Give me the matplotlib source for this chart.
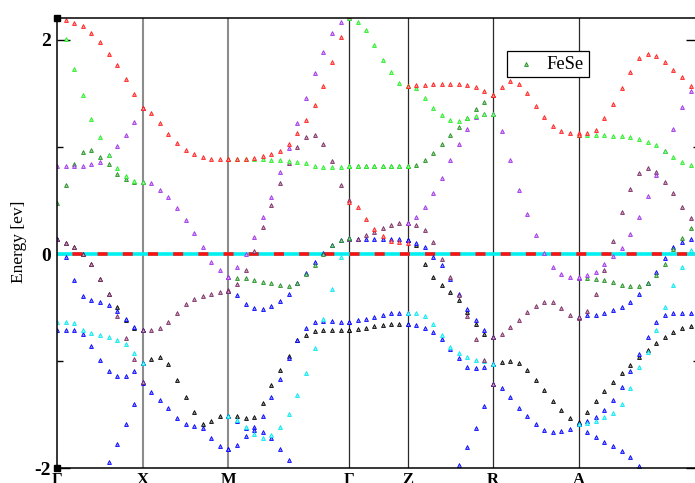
import numpy as np
import matplotlib
matplotlib.use("Agg")
import matplotlib.pyplot as plt
from matplotlib.patches import Rectangle
from matplotlib.lines import Line2D

plt.rcParams['font.family'] = ['Liberation Serif', 'DejaVu Serif']
plt.rcParams['axes.unicode_minus'] = False
plt.rcParams['lines.scale_dashes'] = False

# k-path
k_labels = ["Γ", "X", "M", "Γ", "Z", "R", "A", "Z"]
seg_lengths = [1.0, 1.0, 1.414, 0.682, 1.0, 1.0, 1.414]

# band energies (eV) read along each segment of the path
gx = {
    "red":    [2.19, 2.18, 2.16, 2.13, 2.06, 1.98, 1.87, 1.76, 1.63, 1.49, 1.36],
    "lime":   [2.22, 2.01, 1.73, 1.48, 1.26, 1.09, 0.92, 0.80, 0.725, 0.685, 0.67],
    "dgreen": [0.48, 0.64, 0.84, 0.95, 0.97, 0.905, 0.84, 0.75, 0.70, 0.675, 0.67],
    "purple": [0.82, 0.82, 0.82, 0.825, 0.84, 0.86, 0.92, 1.005, 1.11, 1.23, 1.36],
    "black":  [0.14, 0.10, 0.065, 0.0, -0.09, -0.23, -0.37, -0.495, -0.62, -0.69, -0.71],
    "blue_a": [0.14, -0.03, -0.24, -0.39, -0.43, -0.45, -0.48, -0.53, -0.61, -0.68, -0.71],
    "maroon": [0.14, 0.10, 0.065, 0.0, -0.09, -0.23, -0.37, -0.58, -0.78, -0.98, -1.195],
    "cyan":   [-0.635, -0.635, -0.645, -0.71, -0.735, -0.755, -0.775, -0.80, -0.84, -0.925, -1.02],
    "blue_b": [-0.71, -0.71, -0.71, -0.75, -0.86, -0.99, -1.09, -1.14, -1.14, -1.095, -1.02],
    "blue_c": [None, None, None, None, None, -2.04, -1.94, -1.77, -1.59, -1.40, -1.20],
}
xm = {
    "red":    [1.36, 1.32, 1.22, 1.12, 1.04, 0.97, 0.93, 0.91, 0.89, 0.89, 0.89],
    "purple": [0.67, 0.66, 0.595, 0.53, 0.43, 0.32, 0.20, 0.065, -0.075, -0.15, -0.215],
    "maroon": [-0.71, -0.71, -0.69, -0.63, -0.55, -0.47, -0.42, -0.395, -0.37, -0.355, -0.34],
    "black":  [-1.02, -0.98, -0.96, -1.03, -1.18, -1.33, -1.475, -1.585, -1.555, -1.515, -1.51],
    "blue_c": [-1.195, -1.29, -1.36, -1.44, -1.53, -1.59, -1.605, -1.62, -1.715, -1.79, -1.82],
}
mg = {
    "red":    [0.89, 0.89, 0.89, 0.90, 0.915, 0.93, 0.96, 1.03, 1.125, 1.25, 1.39, 1.57, 1.79, 2.03, 2.22],
    "lime":   [0.89, 0.89, 0.89, 0.89, 0.89, 0.88, 0.875, 0.865, 0.86, 0.845, 0.82, 0.81, 0.81, 0.815, 0.82],
    "purple": [-0.215, -0.12, 0.0, 0.16, 0.35, 0.53, 0.765, 0.99, 1.22, 1.46, 1.69, 1.89, 2.06, 2.165, 2.2],
    "maroon": [-0.345, -0.28, -0.15, 0.03, 0.25, 0.46, 0.665, 0.85, 1.0, 1.09, 1.115, 1.03, 0.865, 0.64, 0.5],
    "dgreen": [-0.215, -0.22, -0.225, -0.24, -0.26, -0.275, -0.29, -0.30, -0.27, -0.19, -0.10, 0.0, 0.08, 0.128, 0.15],
    "blue_a": [-0.345, -0.385, -0.465, -0.50, -0.51, -0.485, -0.44, -0.37, -0.275, -0.18, -0.075, 0.01, 0.08, 0.128, 0.15],
    "cyan":   [-1.51, -1.545, -1.61, -1.68, -1.715, -1.685, -1.615, -1.49, -1.32, -1.11, -0.875, -0.61, -0.33, -0.03, 0.14],
    "black":  [-1.51, -1.515, -1.53, -1.52, -1.39, -1.225, -1.08, -0.95, -0.805, -0.76, -0.72, -0.71, -0.71, -0.71, -0.71],
    "blue_b": [-1.82, -1.78, -1.70, -1.615, -1.51, -1.335, -1.165, -0.97, -0.80, -0.69, -0.63, -0.625, -0.625, -0.63, -0.635],
    "blue_c": [-1.51, -1.56, -1.62, -1.64, -1.66, -1.715, -1.82, -1.925, -2.035, None, None, None, None, None, None],
}
gz = {
    "lime":   [2.2, 2.17, 2.09, 1.955, 1.81, 1.695, 1.60, 1.57],
    "dgreen": [0.82, 0.82, 0.82, 0.82, 0.82, 0.82, 0.82, 0.82],
    "lime_b": [0.82, 0.82, 0.82, 0.82, 0.82, 0.82, 0.82, 0.82],
    "red":    [0.49, 0.44, 0.33, 0.235, 0.165, 0.12, 0.11, 0.105],
    "blue_a": [0.14, 0.14, 0.14, 0.14, 0.14, 0.14, 0.137, 0.135],
    "maroon": [0.143, 0.143, 0.175, 0.205, 0.245, 0.275, 0.29, 0.29],
    "blue_b": [-0.635, -0.62, -0.605, -0.585, -0.565, -0.55, -0.548, -0.548],
    "black":  [-0.705, -0.70, -0.69, -0.67, -0.66, -0.653, -0.653, -0.656],
}
zr = {
    "red":    [1.57, 1.575, 1.58, 1.585, 1.59, 1.59, 1.59, 1.58, 1.56, 1.52, 1.48],
    "lime":   [1.57, 1.545, 1.46, 1.365, 1.30, 1.25, 1.24, 1.265, 1.29, 1.305, 1.31],
    "dgreen": [0.82, 0.83, 0.88, 0.945, 1.025, 1.11, 1.185, 1.27, 1.35, 1.42, 1.48],
    "purple": [0.29, 0.345, 0.44, 0.565, 0.71, 0.875, 1.025, 1.165, 1.275, 1.305, 1.31],
    "maroon": [0.29, 0.275, 0.22, 0.11, -0.05, -0.215, -0.385, -0.58, -0.79, -0.99, -1.215],
    "black":  [0.135, 0.08, -0.095, -0.215, -0.285, -0.355, -0.425, -0.54, -0.65, -0.745, -0.77],
    "blue_a": [0.135, 0.10, 0.065, -0.03, -0.105, -0.23, -0.37, -0.515, -0.62, -0.71, -0.77],
    "blue_c": [None, None, None, None, None, -2.15, -1.97, -1.80, -1.62, -1.42, -1.215],
    "cyan":   [-0.55, -0.55, -0.58, -0.65, -0.76, -0.87, -0.925, -0.96, -0.985, -1.0, -1.025],
    "blue_b": [-0.655, -0.665, -0.695, -0.73, -0.79, -0.885, -0.975, -1.05, -1.065, -1.055, -1.025],
}
ra = {
    "red":    [1.48, 1.56, 1.615, 1.59, 1.50, 1.385, 1.275, 1.195, 1.15, 1.13, 1.125],
    "purple": [1.31, 1.145, 0.88, 0.60, 0.37, 0.18, 0.01, -0.12, -0.19, -0.215, -0.22],
    "maroon": [-0.77, -0.745, -0.68, -0.615, -0.54, -0.485, -0.445, -0.445, -0.50, -0.565, -0.595],
    "black":  [-1.025, -1.01, -1.0, -1.02, -1.085, -1.175, -1.27, -1.37, -1.46, -1.53, -1.58],
    "blue_a": [-1.215, -1.25, -1.335, -1.435, -1.51, -1.585, -1.64, -1.66, -1.655, -1.63, -1.59],
}
az = {
    "red":    [1.115, 1.125, 1.155, 1.27, 1.40, 1.55, 1.70, 1.825, 1.87, 1.85, 1.79, 1.72, 1.65, 1.57, 1.51],
    "lime":   [1.115, 1.115, 1.11, 1.11, 1.105, 1.10, 1.09, 1.075, 1.05, 1.015, 0.96, 0.91, 0.86, 0.835, 0.82],
    "purple": [-0.215, -0.20, -0.165, -0.09, -0.02, 0.055, 0.19, 0.35, 0.54, 0.74, 0.96, 1.17, 1.37, 1.52, 1.62],
    "maroon": [-0.59, -0.53, -0.375, -0.145, 0.12, 0.39, 0.61, 0.755, 0.805, 0.765, 0.67, 0.565, 0.44, 0.34, 0.27],
    "dgreen": [-0.22, -0.22, -0.235, -0.24, -0.265, -0.285, -0.30, -0.30, -0.275, -0.20, -0.09, 0.05, 0.15, 0.24, 0.30],
    "blue_a": [-0.59, -0.57, -0.565, -0.55, -0.525, -0.49, -0.45, -0.37, -0.27, -0.17, -0.035, 0.065, 0.11, 0.14, 0.15],
    "cyan":   [-1.59, -1.58, -1.56, -1.52, -1.48, -1.40, -1.25, -1.055, -0.915, -0.71, -0.495, -0.29, -0.12, 0.035, 0.13],
    "blue_b": [-1.59, -1.555, -1.52, -1.455, -1.36, -1.24, -1.09, -0.93, -0.775, -0.635, -0.565, -0.555, -0.555, -0.555, -0.555],
    "black":  [-1.57, -1.475, -1.375, -1.275, -1.195, -1.115, -1.04, -0.96, -0.895, -0.83, -0.775, -0.73, -0.695, -0.67, -0.655],
    "blue_c": [-1.59, -1.66, -1.71, -1.75, -1.79, -1.84, -1.895, -1.975, -2.06, None, None, None, None, None, None],
}
segments = [gx, xm, mg, gz, zr, ra, az]

colours = {
    "black": "#000000", "blue": "#0000ff", "cyan": "#00e8f0", "maroon": "#7a2860",
    "dgreen": "#1f8f1f", "purple": "#a030e8", "lime": "#22ee22", "red": "#ff1a1a",
}
layer = {"black": 3.0, "blue": 3.1, "cyan": 3.2, "maroon": 3.3,
         "dgreen": 3.4, "purple": 3.5, "lime": 3.6, "red": 3.7}

k_ticks = np.concatenate([[0.0], np.cumsum(seg_lengths)])

fig = plt.figure(figsize=(6.95, 4.83), dpi=100)
ax = fig.add_axes([57.3 / 695, 1 - 468.3 / 483, 642.1 / 695, 450.0 / 483])


def lighter(c, f=0.55):
    rgb = np.array(matplotlib.colors.to_rgb(c))
    return tuple(rgb + (1 - rgb) * f)


for s, seg in enumerate(segments):
    for name, vals in seg.items():
        e = np.array(vals, dtype=float)
        k = np.linspace(k_ticks[s], k_ticks[s + 1], len(e))
        base = name.split("_")[0]
        c = colours[base]
        ax.plot(k, e, ls="none", marker="^", ms=2.8, mec=c, mfc=lighter(c),
                mew=0.6, zorder=layer[base])

# Fermi level
ax.axhline(0, color="#00f0f0", lw=2.6, zorder=2)
ax.axhline(0, color="#ff1010", lw=2.6, zorder=2.1, ls=(7.06, (7.2, 10.94)))

# high-symmetry lines
for i, kt in enumerate(k_ticks[1:-1], start=1):
    if i in (1, 2):
        ax.axvline(kt, color="#8c8c8c", lw=1.5, zorder=1)
    else:
        ax.axvline(kt, color="#2a2a2a", lw=0.9, zorder=1)

ax.set_xlim(k_ticks[0], k_ticks[-1])
ax.set_ylim(-2.0, 2.2)
ax.set_xticks(k_ticks)
ax.set_xticklabels(k_labels, fontsize=12, fontweight="bold")
ax.tick_params(axis="x", length=0, pad=3)
ax.set_yticks([-2, 0, 2])
ax.set_yticklabels(["-2", "0", "2"], fontsize=14, fontweight="bold")
ax.set_yticks([-1, 1], minor=True)
ax.tick_params(axis="y", which="major", direction="in", length=9.4, width=1.0,
               right=True, pad=4.8)
ax.tick_params(axis="y", which="minor", direction="in", length=4.3, width=1.0,
               right=True)
for sp in ax.spines.values():
    sp.set_linewidth(1.1)
    sp.set_zorder(5)

# corner squares
ylo, yhi = ax.get_ylim()
ax.plot([k_ticks[0], k_ticks[0]], [yhi, ylo], ls="none", marker="s", ms=4.3,
        color="black", clip_on=False, zorder=6)

fig.text(19 / 695, 1 - 242 / 483, "Energy [ev]", rotation=90, ha="center",
         va="center", fontsize=12.5)

# legend
fig.patches.append(Rectangle((507.3 / 695, 1 - 77.3 / 483), 81.4 / 695, 26.6 / 483,
                             transform=fig.transFigure, facecolor="white",
                             edgecolor="black", lw=0.9, zorder=10))
fig.lines.append(Line2D([526 / 695], [1 - 63.7 / 483], transform=fig.transFigure,
                        ls="none", marker="^", ms=2.8, mec=colours["dgreen"],
                        mfc=lighter(colours["dgreen"]), mew=0.6, zorder=11))
fig.text(546.7 / 695, 1 - 69.3 / 483, "FeSe", fontsize=13.3, va="baseline",
         ha="left", zorder=11)

fig.savefig("out.png", dpi=100)
